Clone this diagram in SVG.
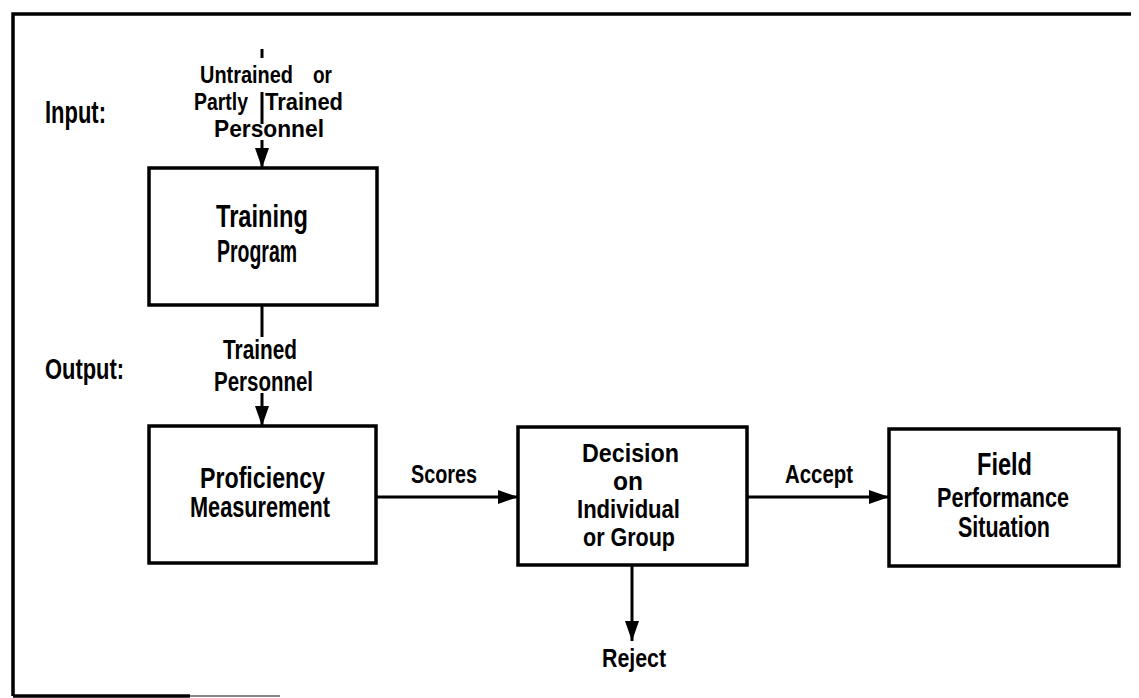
<svg xmlns="http://www.w3.org/2000/svg" width="1139" height="698" viewBox="0 0 1139 698">
  <style>
    text { font-family: "Liberation Sans", Arial, sans-serif; font-weight: bold; fill: #000; }
    .box { fill: none; stroke: #000; stroke-width: 3.5; }
    .line { fill: none; stroke: #000; stroke-width: 3; }
    .frame { fill: none; stroke: #000; stroke-width: 3.5; }
    .head { font-size: 31px; }
    .node { font-size: 31px; }
    .lbl { font-size: 24px; }
    .dec { font-size: 25px; }
  </style>
  <defs>
    <marker id="arrow" viewBox="0 0 20 14" refX="20" refY="7" markerWidth="20" markerHeight="14" orient="auto" markerUnits="userSpaceOnUse">
      <path d="M0,0 L20,7 L0,14 Z" fill="#000"/>
    </marker>
  </defs>

  <rect width="1139" height="698" fill="#fff"/>

  <!-- outer frame -->
  <g id="frame">
    <path class="frame" d="M13,696 L13,14 L1131,14"/>
    <path class="frame" d="M13,696 L190,696"/>
    <path d="M190,696 L280,696" stroke="#888" stroke-width="2"/>
  </g>

  <!-- side headings -->
  <g id="headings">
    <text class="head" x="45" y="123" textLength="61" lengthAdjust="spacingAndGlyphs">Input:</text>
    <text class="head" x="45" y="379" textLength="79" lengthAdjust="spacingAndGlyphs" style="font-size:29px">Output:</text>
  </g>

  <!-- connectors -->
  <g id="connectors">
    <path class="line" d="M262,49 L262,58"/>
    <path class="line" d="M262,92 L262,124"/>
    <path class="line" d="M262,140 L262,168" marker-end="url(#arrow)"/>
    <path class="line" d="M262,305 L262,337"/>
    <path class="line" d="M262,393 L262,426" marker-end="url(#arrow)"/>
    <path class="line" d="M376,497 L518,497" marker-end="url(#arrow)"/>
    <path class="line" d="M747,497 L889,497" marker-end="url(#arrow)"/>
    <path class="line" d="M632,565 L632,641" marker-end="url(#arrow)"/>
  </g>

  <!-- connector labels -->
  <g id="labels">
    <text class="lbl" x="200" y="83" textLength="93" lengthAdjust="spacingAndGlyphs">Untrained</text>
    <text class="lbl" x="313" y="83" textLength="19" lengthAdjust="spacingAndGlyphs">or</text>
    <text class="lbl" x="194" y="110" textLength="54" lengthAdjust="spacingAndGlyphs">Partly</text>
    <text class="lbl" x="265" y="110" textLength="78" lengthAdjust="spacingAndGlyphs">Trained</text>
    <text class="lbl" x="214" y="137" textLength="110" lengthAdjust="spacingAndGlyphs">Personnel</text>
    <text class="lbl" x="223" y="359" textLength="74" lengthAdjust="spacingAndGlyphs" style="font-size:27px">Trained</text>
    <text class="lbl" x="214" y="391" textLength="99" lengthAdjust="spacingAndGlyphs" style="font-size:27px">Personnel</text>
    <text class="lbl" x="411" y="483" textLength="66" lengthAdjust="spacingAndGlyphs" style="font-size:25px">Scores</text>
    <text class="lbl" x="785" y="483" textLength="68" lengthAdjust="spacingAndGlyphs" style="font-size:25px">Accept</text>
    <text class="lbl" x="602" y="667" textLength="64" lengthAdjust="spacingAndGlyphs" style="font-size:26px">Reject</text>
  </g>

  <!-- nodes -->
  <g id="training">
    <rect class="box" x="149" y="168" width="228" height="137"/>
    <text class="node" x="216" y="227" textLength="92" lengthAdjust="spacingAndGlyphs" style="font-size:32px">Training</text>
    <text class="node" x="217" y="262" textLength="80" lengthAdjust="spacingAndGlyphs" style="font-size:32px">Program</text>
  </g>

  <g id="proficiency">
    <rect class="box" x="149" y="426" width="227" height="137"/>
    <text class="node" x="200" y="488" textLength="125" lengthAdjust="spacingAndGlyphs" style="font-size:29px">Proficiency</text>
    <text class="node" x="190" y="517" textLength="140" lengthAdjust="spacingAndGlyphs" style="font-size:29px">Measurement</text>
  </g>

  <g id="decision">
    <rect class="box" x="518" y="427" width="229" height="138"/>
    <text class="dec" x="582" y="462" textLength="97" lengthAdjust="spacingAndGlyphs">Decision</text>
    <text class="dec" x="613" y="490" textLength="30" lengthAdjust="spacingAndGlyphs">on</text>
    <text class="dec" x="577" y="518" textLength="103" lengthAdjust="spacingAndGlyphs">Individual</text>
    <text class="dec" x="583" y="546" textLength="92" lengthAdjust="spacingAndGlyphs">or Group</text>
  </g>

  <g id="field">
    <rect class="box" x="889" y="429" width="230" height="137"/>
    <text class="node" x="977" y="475" textLength="55" lengthAdjust="spacingAndGlyphs">Field</text>
    <text class="node" x="937" y="507" textLength="132" lengthAdjust="spacingAndGlyphs" style="font-size:28px">Performance</text>
    <text class="node" x="958" y="537" textLength="92" lengthAdjust="spacingAndGlyphs" style="font-size:29px">Situation</text>
  </g>
</svg>
